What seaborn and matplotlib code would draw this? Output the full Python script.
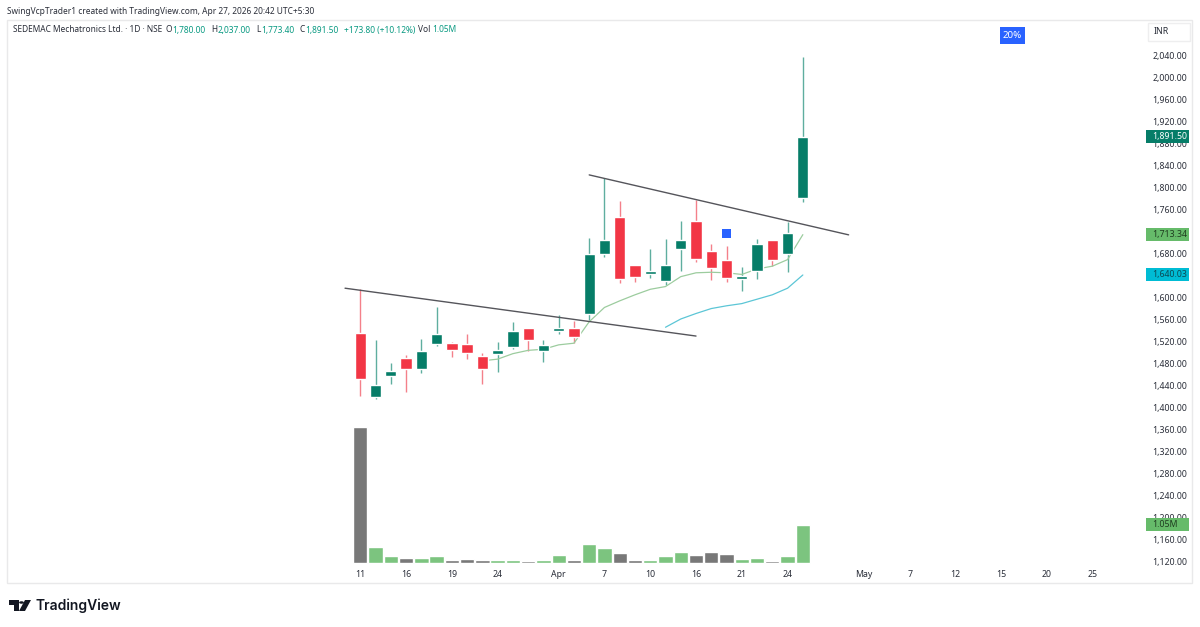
import matplotlib
matplotlib.use("Agg")
import matplotlib.pyplot as plt
from matplotlib.patches import Rectangle, Polygon, Circle
import pandas as pd
import seaborn as sns

W, H = 1200, 627
GREEN = "#067d68"
WICK_GREEN = "#5fae9f"
RED = "#f23645"
WICK_RED = "#f4808a"
TEAL = "#089981"
TEXT = "#2a2e39"
SMALL = 6.3

# candles
opens = [1534.6, 1418, 1456.4, 1488.5, 1469.7, 1514, 1516, 1514, 1493, 1497,
         1509, 1544, 1502, 1539, 1544, 1569, 1679, 1746, 1658, 1642,
         1629, 1687, 1739, 1684, 1668, 1633, 1648, 1704, 1679, 1780]
highs = [1613.9, 1521.8, 1480.6, 1494, 1523, 1581, 1518, 1533, 1499, 1518,
         1554, 1544, 1521, 1567, 1556, 1708, 1816, 1775, 1659, 1688,
         1706, 1739, 1776, 1696, 1693, 1654, 1706, 1704, 1737, 2037]
lows = [1420, 1414, 1442.5, 1428, 1461, 1511, 1490, 1488, 1441, 1464,
        1506, 1502, 1481, 1532, 1517, 1558, 1672, 1625, 1627, 1634,
        1622, 1648, 1664, 1630, 1627, 1611, 1632, 1656, 1646, 1773.4]
closes = [1450.9, 1440, 1464.9, 1469.7, 1502.4, 1532, 1504, 1499, 1469, 1504,
          1538, 1522, 1513, 1544, 1528, 1679, 1704, 1633, 1636, 1647,
          1658, 1704, 1670, 1653, 1635, 1638, 1696, 1667, 1716, 1891.5]
volumes = [3.72, 0.45, 0.18, 0.15, 0.15, 0.20, 0.09, 0.11, 0.09, 0.07,
           0.09, 0.055, 0.07, 0.22, 0.09, 0.53, 0.42, 0.27, 0.09, 0.09,
           0.18, 0.31, 0.23, 0.29, 0.26, 0.11, 0.15, 0.065, 0.20, 1.05]

ema_fast = [1484, 1487, 1497, 1503, 1505, 1513, 1516, 1555, 1581, 1593, 1604,
            1614, 1619, 1637, 1644, 1645, 1644, 1641, 1651, 1656, 1668, 1713.34]
ema_slow = [1545, 1560, 1570, 1579, 1584, 1588, 1596, 1604, 1616, 1640.03]

trend_low_x = [-1, 22]
trend_low_y = [1616, 1529]
trend_high_x = [15, 32]
trend_high_y = [1822, 1713]

marker_x = [24]
marker_y = [1716]

date_ticks = [0, 3, 6, 9, 13, 16, 19, 22, 25, 28, 33, 36, 39, 42, 45, 48]
date_labels = ["11", "16", "19", "24", "Apr", "7", "10", "16", "21", "24",
               "May", "7", "12", "15", "20", "25"]
price_ticks = list(range(1120, 2041, 40))

days = list(range(len(opens)))
df = pd.DataFrame({"day": days, "open": opens, "high": highs, "low": lows,
                   "close": closes, "volume": volumes})
df["up"] = df["close"] >= df["open"]
df["dir"] = df["up"].map({True: "up", False: "down"})

sns.set_theme(style="white")
plt.rcParams["font.family"] = ["Noto Sans", "DejaVu Sans"]


def fx(x):
    return x / W


def fy(y):
    return 1 - y / H


fig = plt.figure(figsize=(12, 6.27), dpi=100, facecolor="white")

# chart frame
fig.add_artist(Rectangle((fx(7), fy(583)), fx(1185), (583 - 20) / H, fill=False,
                         edgecolor="#e9e9ea", linewidth=1))

# axes sit in pixel position, scales below keep bars at about 15.26 px spacing
left, right, top, bottom = 7, 1146, 20, 566
ax = fig.add_axes([fx(left), fy(bottom), (right - left) / W, (bottom - top) / H])
ax.set_facecolor("none")
ax_vol = ax.twinx()

sns.barplot(data=df, x="day", y="volume", hue="dir", palette={"up": "#7cc47f", "down": "#787878"},
            native_scale=True, dodge=False, width=0.94, gap=0, saturation=1, legend=False, errorbar=None,
            ax=ax_vol)

# candles
ax.vlines(df["day"], df["low"], df["high"], colors=[WICK_GREEN if u else WICK_RED for u in df["up"]],
          linewidth=1, zorder=2)
ax.bar(df["day"], (df["close"] - df["open"]).abs(), bottom=df[["open", "close"]].min(axis=1), width=0.74,
       color=[GREEN if u else RED for u in df["up"]], zorder=3)

sns.lineplot(x=days[8:], y=ema_fast, color="#9ccc9e", linewidth=0.9, ax=ax, zorder=2.5)
sns.lineplot(x=days[20:], y=ema_slow, color="#5cc6d6", linewidth=0.9, ax=ax, zorder=2.5)
sns.lineplot(x=trend_low_x, y=trend_low_y, color="#55555b", linewidth=1, ax=ax, zorder=4)
sns.lineplot(x=trend_high_x, y=trend_high_y, color="#55555b", linewidth=1, ax=ax, zorder=4)
sns.scatterplot(x=marker_x, y=marker_y, marker="s", s=44, color="#2962ff", edgecolor="none", ax=ax, zorder=4)

ax.set_xlim((left - 360.3) / 15.26, (right - 360.3) / 15.26)
ax.set_ylim(2000 - (bottom - 77) / 0.55, 2000 + (77 - top) / 0.55)
ax_vol.set_ylim(-3 * 0.02742, (bottom - top - 3) * 0.02742)
ax_vol.set_yticks([])
ax_vol.set_ylabel("")
ax_vol.set_xlabel("")
ax_vol.grid(False)
ax.grid(False)
for a in (ax, ax_vol):
    for s in a.spines.values():
        s.set_visible(False)

ax.yaxis.tick_right()
ax.set_yticks(price_ticks)
ax.set_yticklabels([f"{p:,.2f}" for p in price_ticks])
ax.tick_params(axis="y", length=0, pad=4.5, labelsize=SMALL, labelcolor=TEXT, labelright=True, labelleft=False)
ax.set_xticks(date_ticks)
ax.set_xticklabels(date_labels)
ax.tick_params(axis="x", length=0, pad=3, labelsize=SMALL, labelcolor=TEXT)
for lab in ax.get_xticklabels():
    if lab.get_text() == "Apr":
        lab.set_fontweight("bold")
ax.set_xlabel("")
ax.set_ylabel("")


def price_tag(a, value, label, color, text_color="white"):
    # coloured tag on the price scale, 13 px tall
    y0, y1 = a.get_ylim()
    h = 13 * (y1 - y0) / (bottom - top)
    trans = a.get_yaxis_transform()
    width = 43 / (right - left)
    a.add_patch(Rectangle((1.0, value - h / 2), width, h, transform=trans, color=color,
                          clip_on=False, zorder=6, linewidth=0))
    a.text(1 + 6 / (right - left), value, label, transform=trans, color=text_color, fontsize=SMALL,
           va="center", ha="left", clip_on=False, zorder=7)


price_tag(ax, 1891.5, "1,891.50", GREEN)
price_tag(ax, 1713.34, "1,713.34", "#66bb6a", "#1f3d20")
price_tag(ax, 1640.03, "1,640.03", "#00bcd4", "#0b4a55")
price_tag(ax_vol, 1.05, "1.05M", "#66bb6a", "#1f3d20")

# header text
fig.text(fx(7), fy(11), "SwingVcpTrader1 created with TradingView.com, Apr 27, 2026 20:42 UTC+5:30",
         fontsize=6.0, color=TEXT, va="center")
header = [(13, "SEDEMAC Mechatronics Ltd. · 1D · NSE", TEXT), (166, "O", TEXT), (172.5, "1,780.00", TEAL),
          (211, "H", TEXT), (217.5, "2,037.00", TEAL), (256, "L", TEXT), (261, "1,773.40", TEAL),
          (299, "C", TEXT), (305, "1,891.50", TEAL), (344, "+173.80 (+10.12%)", TEAL),
          (418, "Vol", TEXT), (432, "1.05M", TEAL)]
for x, s, c in header:
    fig.text(fx(x), fy(30), s, fontsize=6.0, color=c, va="center")

# 20% badge and currency box
fig.add_artist(Rectangle((fx(1000), fy(44)), 25 / W, 17 / H, color="#2962ff", linewidth=0, zorder=5))
fig.text(fx(1012.5), fy(35.5), "20%", color="white", fontsize=7, ha="center", va="center", zorder=6)
fig.add_artist(Rectangle((fx(1148), fy(41)), 42 / W, 18 / H, fill=False, edgecolor="#eeeeef", linewidth=1))
fig.text(fx(1154), fy(32), "INR", color=TEXT, fontsize=SMALL, va="center")

# TradingView logo
fig.add_artist(Polygon([(fx(9), fy(600)), (fx(19), fy(600)), (fx(19), fy(611)), (fx(14), fy(611)),
                        (fx(14), fy(605)), (fx(9), fy(605))], color="#131722", linewidth=0))
fig.add_artist(Polygon([(fx(25), fy(600)), (fx(31), fy(600)), (fx(25), fy(611)), (fx(19), fy(611))],
                       color="#131722", linewidth=0))
fig.add_artist(Circle((fx(21.5), fy(602.5)), 2.4 / W, color="#131722", linewidth=0))
fig.text(fx(36), fy(605.5), "TradingView", color="#131722", fontsize=10, fontfamily="Inter",
         fontweight="semibold", va="center")

fig.savefig("out.png", dpi=100)
